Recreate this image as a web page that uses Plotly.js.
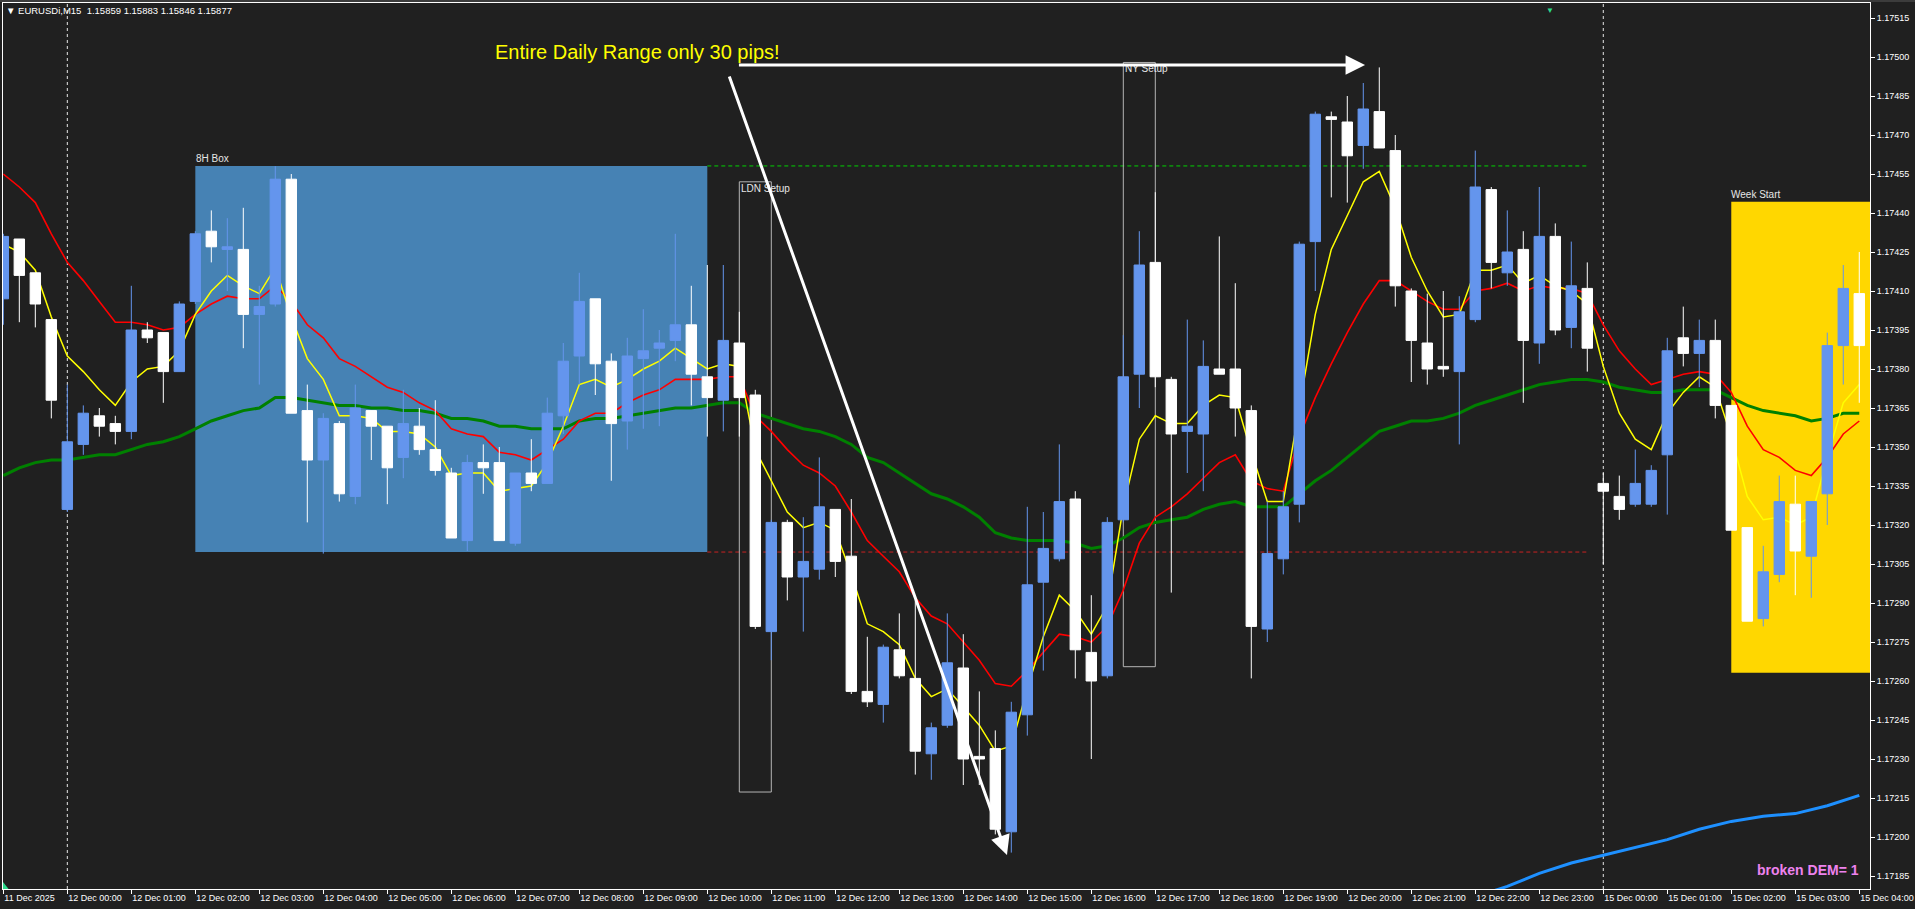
<!DOCTYPE html>
<html>
<head>
<meta charset="utf-8">
<script src="https://cdn.plot.ly/plotly-3.0.1.min.js"></script>
<style>
html,body{margin:0;padding:0;background:#202020;overflow:hidden;}
#chart{width:1915px;height:909px;}
</style>
</head>
<body>
<div id="chart"></div>
<script>
// ---- hourly axis labels (one every 4 bars of 15 minutes) ----
const hourLabels = ["11 Dec 2025","12 Dec 00:00","12 Dec 01:00","12 Dec 02:00","12 Dec 03:00","12 Dec 04:00",
  "12 Dec 05:00","12 Dec 06:00","12 Dec 07:00","12 Dec 08:00","12 Dec 09:00","12 Dec 10:00","12 Dec 11:00",
  "12 Dec 12:00","12 Dec 13:00","12 Dec 14:00","12 Dec 15:00","12 Dec 16:00","12 Dec 17:00","12 Dec 18:00",
  "12 Dec 19:00","12 Dec 20:00","12 Dec 21:00","12 Dec 22:00","12 Dec 23:00","15 Dec 00:00","15 Dec 01:00",
  "15 Dec 02:00","15 Dec 03:00","15 Dec 04:00"];

// ---- EURUSDi M15 candles ----
const open = [1.17407,1.17430,1.17417,1.17399,1.17326,1.17351,1.17362,1.17359,1.17356,1.17395,
 1.17394,1.17379,1.17406,1.17433,1.17426,1.17426,1.17401,1.17405,1.17453,1.17364,
 1.17345,1.17359,1.17331,1.17364,1.17358,1.17346,1.17358,1.17349,1.17340,1.17314,
 1.17344,1.17344,1.17313,1.17340,1.17336,1.17362,1.17385,1.17407,1.17383,1.17360,
 1.17384,1.17388,1.17391,1.17397,1.17377,1.17368,1.17390,1.17370,1.17279,1.17321,
 1.17300,1.17303,1.17326,1.17308,1.17256,1.17251,1.17272,1.17261,1.17232,1.17243,
 1.17265,1.17231,1.17234,1.17202,1.17247,1.17298,1.17307,1.17330,1.17271,1.17262,
 1.17322,1.17378,1.17421,1.17376,1.17356,1.17355,1.17380,1.17380,1.17364,1.17280,
 1.17307,1.17328,1.17429,1.17477,1.17475,1.17466,1.17479,1.17464,1.17410,1.17390,
 1.17381,1.17379,1.17399,1.17449,1.17417,1.17426,1.17390,1.17431,1.17396,1.17411,
 1.17336,1.17331,1.17328,1.17328,1.17347,1.17392,1.17386,1.17391,1.17366,1.17319,
 1.17284,1.17301,1.17328,1.17308,1.17332,1.17389,1.17409];
const high = [1.17432,1.17430,1.17417,1.17399,1.17374,1.17366,1.17365,1.17362,1.17412,1.17398,
 1.17394,1.17406,1.17433,1.17441,1.17438,1.17442,1.17412,1.17458,1.17455,1.17374,
 1.17363,1.17360,1.17374,1.17364,1.17358,1.17372,1.17365,1.17368,1.17342,1.17347,
 1.17351,1.17350,1.17340,1.17353,1.17369,1.17390,1.17417,1.17407,1.17386,1.17392,
 1.17403,1.17395,1.17432,1.17412,1.17420,1.17420,1.17402,1.17372,1.17322,1.17322,
 1.17323,1.17346,1.17326,1.17330,1.17277,1.17274,1.17286,1.17291,1.17244,1.17286,
 1.17278,1.17256,1.17241,1.17252,1.17327,1.17325,1.17351,1.17333,1.17293,1.17323,
 1.17393,1.17433,1.17448,1.17377,1.17399,1.17391,1.17431,1.17413,1.17366,1.17329,
 1.17333,1.17429,1.17479,1.17479,1.17485,1.17490,1.17496,1.17470,1.17411,1.17409,
 1.17410,1.17408,1.17464,1.17450,1.17441,1.17433,1.17450,1.17436,1.17429,1.17421,
 1.17340,1.17339,1.17349,1.17343,1.17392,1.17404,1.17399,1.17399,1.17366,1.17319,
 1.17312,1.17339,1.17339,1.17329,1.17394,1.17420,1.17425];
const low = [1.17397,1.17398,1.17396,1.17361,1.17325,1.17347,1.17354,1.17351,1.17353,1.17390,
 1.17367,1.17379,1.17405,1.17421,1.17410,1.17388,1.17374,1.17404,1.17363,1.17321,
 1.17309,1.17329,1.17328,1.17345,1.17328,1.17338,1.17347,1.17339,1.17315,1.17310,
 1.17332,1.17314,1.17312,1.17333,1.17336,1.17355,1.17374,1.17370,1.17337,1.17349,
 1.17357,1.17358,1.17383,1.17366,1.17354,1.17356,1.17354,1.17280,1.17268,1.17291,
 1.17279,1.17299,1.17300,1.17255,1.17250,1.17244,1.17261,1.17224,1.17222,1.17242,
 1.17220,1.17220,1.17201,1.17194,1.17239,1.17264,1.17306,1.17261,1.17230,1.17261,
 1.17321,1.17365,1.17373,1.17294,1.17340,1.17333,1.17378,1.17354,1.17261,1.17275,
 1.17301,1.17321,1.17410,1.17446,1.17444,1.17457,1.17465,1.17404,1.17375,1.17374,
 1.17377,1.17351,1.17398,1.17411,1.17412,1.17367,1.17382,1.17393,1.17388,1.17379,
 1.17305,1.17322,1.17327,1.17327,1.17324,1.17381,1.17373,1.17361,1.17318,1.17283,
 1.17281,1.17298,1.17293,1.17292,1.17320,1.17374,1.17367];
const close = [1.17431,1.17416,1.17405,1.17368,1.17352,1.17363,1.17358,1.17356,1.17395,1.17392,
 1.17379,1.17405,1.17432,1.17427,1.17427,1.17401,1.17404,1.17453,1.17363,1.17345,
 1.17361,1.17332,1.17365,1.17358,1.17342,1.17359,1.17349,1.17341,1.17315,1.17344,
 1.17342,1.17314,1.17340,1.17336,1.17363,1.17383,1.17406,1.17382,1.17359,1.17385,
 1.17387,1.17390,1.17397,1.17378,1.17369,1.17391,1.17369,1.17281,1.17321,1.17300,
 1.17306,1.17327,1.17306,1.17256,1.17252,1.17273,1.17262,1.17233,1.17242,1.17267,
 1.17230,1.17230,1.17203,1.17248,1.17297,1.17311,1.17329,1.17272,1.17260,1.17321,
 1.17377,1.17420,1.17377,1.17355,1.17358,1.17381,1.17378,1.17365,1.17281,1.17309,
 1.17327,1.17428,1.17478,1.17476,1.17462,1.17480,1.17465,1.17412,1.17391,1.17380,
 1.17380,1.17402,1.17450,1.17421,1.17425,1.17391,1.17431,1.17395,1.17412,1.17388,
 1.17333,1.17326,1.17336,1.17341,1.17387,1.17386,1.17391,1.17366,1.17318,1.17283,
 1.17302,1.17329,1.17310,1.17329,1.17389,1.17411,1.17389];

// ---- moving averages ----
const maYellow = [1.17428,1.17425,1.17418,1.17400,1.17385,1.17379,1.17372,1.17366,1.17375,1.17380,
 1.17381,1.17387,1.17401,1.17410,1.17416,1.17412,1.17409,1.17419,1.17400,1.17384,
 1.17376,1.17362,1.17362,1.17361,1.17356,1.17356,1.17355,1.17350,1.17339,1.17340,
 1.17340,1.17333,1.17334,1.17335,1.17344,1.17358,1.17374,1.17376,1.17373,1.17376,
 1.17380,1.17383,1.17388,1.17384,1.17380,1.17382,1.17381,1.17349,1.17337,1.17325,
 1.17319,1.17321,1.17318,1.17301,1.17282,1.17279,1.17274,1.17261,1.17254,1.17257,
 1.17250,1.17243,1.17233,1.17235,1.17257,1.17277,1.17293,1.17287,1.17278,1.17289,
 1.17327,1.17353,1.17362,1.17359,1.17359,1.17366,1.17370,1.17369,1.17348,1.17329,
 1.17329,1.17365,1.17401,1.17426,1.17439,1.17452,1.17456,1.17442,1.17423,1.17410,
 1.17400,1.17401,1.17418,1.17418,1.17420,1.17413,1.17416,1.17412,1.17410,1.17405,
 1.17381,1.17363,1.17353,1.17349,1.17363,1.17371,1.17377,1.17373,1.17354,1.17331,
 1.17322,1.17323,1.17320,1.17323,1.17346,1.17367,1.17374];
const maRed = [1.17455,1.17450,1.17444,1.17432,1.17421,1.17414,1.17406,1.17398,1.17398,1.17397,
 1.17395,1.17396,1.17401,1.17405,1.17408,1.17407,1.17407,1.17412,1.17406,1.17397,
 1.17392,1.17384,1.17381,1.17377,1.17373,1.17371,1.17367,1.17364,1.17357,1.17355,
 1.17354,1.17348,1.17347,1.17345,1.17349,1.17353,1.17360,1.17363,1.17363,1.17367,
 1.17370,1.17372,1.17376,1.17376,1.17376,1.17377,1.17377,1.17362,1.17356,1.17349,
 1.17343,1.17340,1.17335,1.17325,1.17314,1.17308,1.17302,1.17292,1.17285,1.17282,
 1.17275,1.17268,1.17259,1.17258,1.17264,1.17271,1.17278,1.17277,1.17275,1.17281,
 1.17295,1.17313,1.17323,1.17327,1.17332,1.17338,1.17344,1.17347,1.17337,1.17334,
 1.17333,1.17354,1.17369,1.17382,1.17394,1.17405,1.17414,1.17414,1.17410,1.17406,
 1.17403,1.17403,1.17410,1.17411,1.17413,1.17410,1.17412,1.17411,1.17411,1.17409,
 1.17397,1.17387,1.17380,1.17374,1.17376,1.17378,1.17379,1.17378,1.17371,1.17358,
 1.17349,1.17346,1.17341,1.17339,1.17346,1.17355,1.17360];
const maGreen = [1.17339,1.17342,1.17344,1.17345,1.17345,1.17346,1.17347,1.17347,1.17349,1.17351,
 1.17352,1.17354,1.17357,1.17360,1.17362,1.17364,1.17365,1.17369,1.17369,1.17368,
 1.17367,1.17366,1.17366,1.17365,1.17365,1.17364,1.17364,1.17363,1.17361,1.17361,
 1.17360,1.17358,1.17358,1.17357,1.17357,1.17357,1.17360,1.17361,1.17361,1.17362,
 1.17363,1.17364,1.17365,1.17365,1.17366,1.17367,1.17367,1.17363,1.17361,1.17359,
 1.17357,1.17356,1.17354,1.17351,1.17346,1.17344,1.17340,1.17336,1.17332,1.17330,
 1.17327,1.17323,1.17317,1.17315,1.17314,1.17314,1.17314,1.17313,1.17311,1.17312,
 1.17315,1.17319,1.17321,1.17322,1.17323,1.17326,1.17328,1.17329,1.17327,1.17327,
 1.17327,1.17332,1.17337,1.17341,1.17346,1.17351,1.17356,1.17358,1.17360,1.17360,
 1.17361,1.17363,1.17366,1.17368,1.17370,1.17372,1.17374,1.17375,1.17376,1.17376,
 1.17375,1.17373,1.17372,1.17371,1.17371,1.17372,1.17372,1.17372,1.17369,1.17366,
 1.17364,1.17363,1.17362,1.17360,1.17361,1.17363,1.17363];
const blueBars = [92,94,96,98,100,102,104,106,108,110,112,114,116];
const maBlue = [1.17177,1.17181,1.17186,1.17190,1.17193,1.17196,1.17199,1.17203,1.17206,1.17208,1.17209,1.17212,1.17216];

// ---- session levels ----
const box8H = {start:12, end:44, high:1.174581, low:1.173096};
const levelEnd = 99;
const ldnBox = {start:46, end:48, top:1.17452, bottom:1.172173};
const nyBox = {start:70, end:72, top:1.174979, bottom:1.172655};
const weekBox = {start:108, end:117, top:1.174443, bottom:1.172632};
const daySeparators = [4, 100];

const bars = open.map((_, i) => i);
const tickvals = hourLabels.map((_, k) => k * 4);
const xRange = [-0.02, 116.67];
const yRange = [1.1718, 1.1752077];
const FONT = 'Liberation Sans, Arial, sans-serif';

const traces = [
  {type:'scatter', mode:'lines', x:bars, y:maGreen, line:{color:'#008000', width:3}, hoverinfo:'skip'},
  {type:'scatter', mode:'lines', x:blueBars, y:maBlue, line:{color:'#1E90FF', width:3}, hoverinfo:'skip'},
  {type:'scatter', mode:'lines', x:bars, y:maRed, line:{color:'#FF0000', width:1.6}, hoverinfo:'skip'},
  {type:'scatter', mode:'lines', x:bars, y:maYellow, line:{color:'#FFFF00', width:1.5}, hoverinfo:'skip'},
  {type:'candlestick', x:bars, open:open, high:high, low:low, close:close, xaxis:'x2', yaxis:'y2',
   whiskerwidth:0,
   increasing:{line:{color:'#6495ED', width:1}, fillcolor:'#6495ED'},
   decreasing:{line:{color:'#FFFFFF', width:1}, fillcolor:'#FFFFFF'},
   hoverinfo:'skip'}
];

const shapes = [
  {type:'rect', xref:'x', yref:'y', x0:box8H.start, x1:box8H.end, y0:box8H.low, y1:box8H.high,
   fillcolor:'#4682B4', line:{width:0}, layer:'below'},
  {type:'rect', xref:'x', yref:'y', x0:weekBox.start, x1:weekBox.end, y0:weekBox.bottom, y1:weekBox.top,
   fillcolor:'#FFD700', line:{width:0}, layer:'below'},
  {type:'line', xref:'x', yref:'y', x0:box8H.end, x1:levelEnd, y0:box8H.high, y1:box8H.high,
   line:{color:'#00D000', width:1, dash:'4px,3px'}, layer:'below'},
  {type:'line', xref:'x', yref:'y', x0:box8H.end, x1:levelEnd, y0:box8H.low, y1:box8H.low,
   line:{color:'#C82020', width:1, dash:'4px,3px'}, layer:'below'},
  {type:'rect', xref:'x', yref:'y', x0:ldnBox.start, x1:ldnBox.end, y0:ldnBox.bottom, y1:ldnBox.top,
   line:{color:'#B4B4B4', width:1}, fillcolor:'rgba(0,0,0,0)', layer:'below'},
  {type:'rect', xref:'x', yref:'y', x0:nyBox.start, x1:nyBox.end, y0:nyBox.bottom, y1:nyBox.top,
   line:{color:'#B4B4B4', width:1}, fillcolor:'rgba(0,0,0,0)', layer:'below'},
  {type:'rect', xref:'paper', yref:'paper', x0:-0.01, x1:1.03, y0:1.0012, y1:1.0040,
   fillcolor:'#3C3C3C', line:{width:0}, layer:'below'},
  {type:'path', xref:'paper', yref:'paper', path:'M 0 0 L 0 0.008 L 0.003 0 Z',
   fillcolor:'#2BD98A', line:{width:0}}
];
daySeparators.forEach(b => shapes.push({type:'line', xref:'x', yref:'paper', x0:b, x1:b, y0:0, y1:1,
  line:{color:'#E6E6E6', width:1, dash:'3px,3px'}, layer:'below'}));

const lbl = (x, y, t) => ({xref:'x', yref:'y', x:x, y:y, text:t, showarrow:false, xanchor:'left', yanchor:'middle',
  font:{family:FONT, size:10, color:'#E6E6E6'}});

const annotations = [
  {xref:'paper', yref:'paper', x:0.0008, y:0.991, xanchor:'left', yanchor:'middle', showarrow:false,
   text:'\u25BC EURUSDi,M15\u00a0\u00a01.15859 1.15883 1.15846 1.15877',
   font:{family:FONT, size:9.5, color:'#FFFFFF'}},
  lbl(box8H.start - 0.08, 1.174608, '8H Box'),
  lbl(ldnBox.start - 0.05, 1.174496, 'LDN Setup'),
  lbl(nyBox.start - 0.05, 1.174955, 'NY Setup'),
  lbl(weekBox.start - 0.15, 1.174473, 'Week Start'),
  {xref:'x', yref:'y', x:30.6, y:1.175019, xanchor:'left', yanchor:'middle', showarrow:false,
   text:'Entire Daily Range only 30 pips!', font:{family:FONT, size:20, color:'#FFFF00'}},
  {xref:'x', yref:'y', x:62.73, y:1.171931, axref:'x', ayref:'y', ax:45.23, ay:1.17495, text:' ',
   showarrow:true, arrowhead:2, arrowsize:1.3, arrowwidth:3, arrowcolor:'#FFFFFF', standoff:0, startstandoff:0},
  {xref:'x', yref:'y', x:85.11, y:1.174969, axref:'x', ayref:'y', ax:45.79, ay:1.174969, text:' ',
   showarrow:true, arrowhead:2, arrowsize:1.3, arrowwidth:3, arrowcolor:'#FFFFFF', standoff:0, startstandoff:0},
  {xref:'x', yref:'y', x:116.1, y:1.171874, xanchor:'right', yanchor:'middle', showarrow:false,
   text:'<b>broken DEM= 1</b>', font:{family:FONT, size:14, color:'#EE82EE'}},
  {xref:'x', yref:'paper', x:96.7, y:0.9985, xanchor:'center', yanchor:'top', showarrow:false,
   text:'\u25BC', font:{family:FONT, size:8, color:'#2BD98A'}}
];

const axisCommon = {showgrid:false, zeroline:false, showline:true, linecolor:'#FFFFFF', linewidth:1,
  mirror:true, ticks:'outside', ticklen:4, tickcolor:'#FFFFFF', fixedrange:true,
  tickfont:{family:FONT, size:9, color:'#FFFFFF'}};

const layout = {
  width:1915, height:909,
  paper_bgcolor:'#202020', plot_bgcolor:'#202020',
  margin:{l:3, r:45, t:3, b:20, pad:0},
  showlegend:false, hovermode:false,
  boxgap:0.35, boxgroupgap:0,
  font:{family:FONT, size:9, color:'#FFFFFF'},
  xaxis:Object.assign({}, axisCommon, {range:xRange, tickmode:'array', tickvals:tickvals, ticktext:hourLabels,
    ticklabelposition:'outside right', rangeslider:{visible:false}}),
  yaxis:Object.assign({}, axisCommon, {range:yRange, side:'right', tickmode:'linear', tick0:1.17185,
    dtick:0.00015, tickformat:'.5f'}),
  xaxis2:{overlaying:'x', range:xRange, visible:false, fixedrange:true, rangeslider:{visible:false}},
  yaxis2:{overlaying:'y', range:yRange, visible:false, fixedrange:true, side:'right'},
  shapes:shapes,
  annotations:annotations
};

Plotly.newPlot('chart', traces, layout, {staticPlot:true, displayModeBar:false});
</script>
</body>
</html>
